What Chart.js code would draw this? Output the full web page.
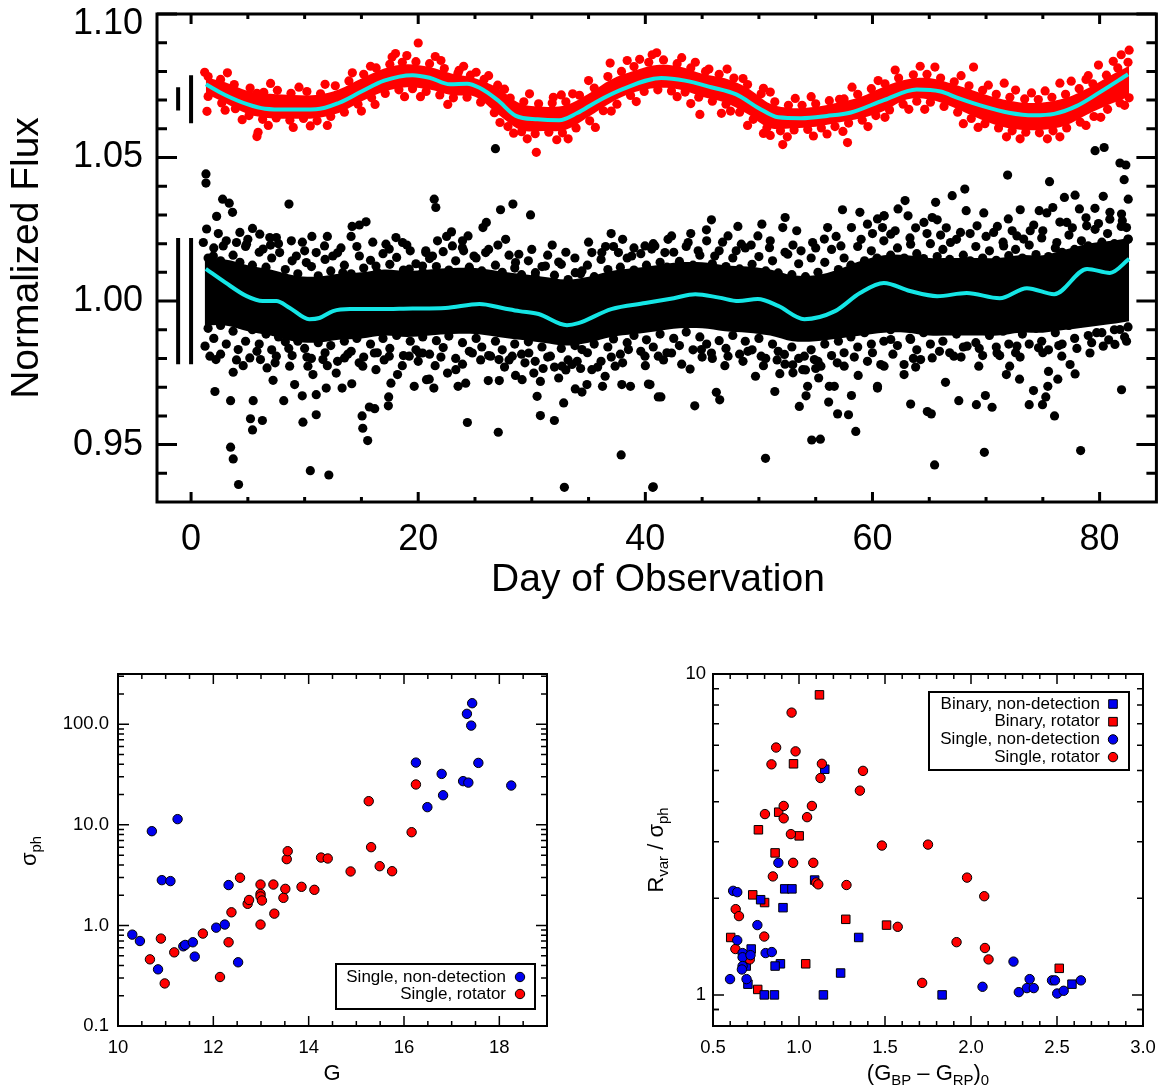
<!DOCTYPE html>
<html>
<head>
<meta charset="utf-8">
<title>Light curves and variability</title>
<script src="https://cdn.jsdelivr.net/npm/chart.js@4.4.0/dist/chart.umd.min.js"></script>
<style>
  body { margin: 0; background: #fff; }
  #wrap { position: relative; width: 1161px; height: 1088px; }
  canvas { position: absolute; }
</style>
</head>
<body>
<div id="wrap">
  <canvas id="lightCurve" width="1161" height="600" style="left:0;top:0"></canvas>
  <canvas id="sigmaPlot" width="580" height="488" style="left:0;top:600px"></canvas>
  <canvas id="ratioPlot" width="581" height="488" style="left:580px;top:600px"></canvas>
</div>
<script>
// ---- top panel: light curves (day, normalized flux) ----
const dayTicks = [0, 20, 40, 60, 80];
const fluxTicks = [0.95, 1.0, 1.05, 1.1];

const redFit = [[1.3,1.0755],[3,1.0718],[5,1.0685],[6.5,1.067],[8.5,1.0667],[11,1.0668],[13,1.069],[15,1.073],[17,1.0768],[19.5,1.0787],[21,1.0778],[22.8,1.0755],[24.3,1.0757],[25.4,1.0743],[27,1.07],[28.6,1.0645],[30.5,1.0633],[32.4,1.063],[34,1.0655],[35.6,1.0692],[38,1.0738],[41.4,1.0777],[43.5,1.0768],[45.8,1.0745],[48,1.072],[50,1.0672],[51.7,1.064],[53.7,1.0637],[56,1.0645],[58.1,1.0657],[61,1.07],[63.9,1.0737],[66,1.073],[67.5,1.0708],[69.8,1.0678],[72,1.0656],[74.2,1.0647],[76,1.0652],[78,1.068],[80,1.0727],[82.5,1.079]];

const blackFit = [[1.3,1.0112],[3,1.0065],[4.9,1.0017],[6.3,1.0],[7.5,1.0],[8.7,0.9976],[10.4,0.9937],[11.3,0.9941],[12.5,0.9965],[14,0.9972],[16.6,0.9972],[19.5,0.9974],[22.4,0.9976],[25.4,0.999],[27.5,0.9975],[28.9,0.9965],[30.6,0.9955],[33.1,0.9916],[34.1,0.9923],[37,0.9972],[40,0.9993],[42.5,1.001],[44.4,1.0024],[46.5,1.0012],[48.2,1.0],[49.9,1.0007],[51.7,0.9983],[54,0.9937],[56.7,0.9965],[58.9,1.0028],[61,1.0063],[63.3,1.0035],[65.7,1.0017],[68.3,1.0028],[71.2,1.001],[73.6,1.0045],[76,1.0024],[78.9,1.0112],[80.9,1.0098],[82.6,1.0147]];

// dense part of the red light curve: upper / lower envelope
const redBandDays = [1.3,3,5,7,9,11,13,15,17,19,21,23,25,27,29,31,33,35,37,39,41,43,45,47,49,51,53,55,57,59,61,63,65,67,69,71,73,75,77,79,81,82.6];
const redBandTop = [1.078,1.0762,1.0732,1.0722,1.0718,1.0718,1.0737,1.0775,1.081,1.0825,1.0815,1.0792,1.0776,1.0742,1.0688,1.0677,1.0682,1.0722,1.0772,1.0802,1.0822,1.0817,1.0792,1.0776,1.0742,1.0687,1.0672,1.0677,1.0692,1.0712,1.0747,1.0772,1.0777,1.0757,1.0732,1.0707,1.0692,1.0692,1.0707,1.0742,1.0787,1.082];
const redBandBottom = [1.0722,1.069,1.0652,1.0637,1.0635,1.0637,1.0655,1.0695,1.073,1.0745,1.0737,1.0717,1.0712,1.0652,1.0597,1.0592,1.0597,1.0642,1.0692,1.0727,1.0742,1.0737,1.0712,1.0692,1.0652,1.0602,1.0602,1.0607,1.0622,1.0637,1.0662,1.0702,1.0702,1.0677,1.0642,1.0612,1.0597,1.0597,1.0612,1.0652,1.0687,1.0712];

const redPoints = [
  [1.5,1.0782],[2.6,1.0772],[3.8,1.0754],[5.2,1.0742],[6.4,1.0727],[7.6,1.0734],[8.8,1.0724],[10.2,1.073],[11.4,1.0722],[12.7,1.075],[13.9,1.0767],[15.2,1.079],[16.3,1.0812],[17.5,1.0825],[18.6,1.0832],[19.8,1.0834],[21,1.0827],[22.3,1.081],[23.5,1.0794],[24.6,1.0787],[25.8,1.0772],[27,1.0752],[28.1,1.0707],[29.3,1.0694],[30.6,1.0687],[31.8,1.069],[33,1.0694],[34.2,1.0717],[35.5,1.0742],[36.7,1.0782],[37.9,1.08],[39,1.0817],[40.3,1.0832],[41.6,1.084],[42.8,1.0827],[44,1.0812],[45.3,1.08],[46.5,1.079],[47.8,1.0777],[49,1.0754],[50.2,1.0722],[51.4,1.0694],[52.6,1.0682],[53.8,1.0682],[55,1.0687],[56.2,1.0698],[57.5,1.0704],[58.7,1.072],[59.9,1.074],[61.1,1.0757],[62.3,1.0777],[63.6,1.0788],[64.8,1.079],[66,1.0777],[67.2,1.0764],[68.5,1.075],[69.7,1.0734],[70.9,1.072],[72.1,1.071],[73.4,1.0704],[74.6,1.0702],[75.8,1.071],[77,1.072],[78.2,1.074],[79.4,1.0757],[80.6,1.0787],[81.6,1.0812],[82.5,1.0832],
  [1.5,1.0713],[2.7,1.069],[3.9,1.067],[5.1,1.0646],[6.3,1.0633],[7.5,1.0638],[8.7,1.063],[9.9,1.0636],[11.1,1.0628],[12.3,1.0643],[13.5,1.0658],[14.7,1.0686],[15.9,1.0708],[17.1,1.0723],[18.3,1.0736],[19.5,1.074],[20.7,1.073],[21.9,1.0718],[23.1,1.0708],[24.3,1.071],[25.5,1.0693],[26.7,1.0656],[27.9,1.0608],[29.1,1.059],[30.3,1.0583],[31.5,1.0588],[32.7,1.0586],[33.9,1.0603],[35.1,1.0628],[36.3,1.0663],[37.5,1.0686],[38.7,1.0716],[39.9,1.073],[41.1,1.0736],[42.3,1.0732],[43.5,1.0728],[44.7,1.071],[45.9,1.0696],[47.1,1.0686],[48.3,1.0658],[49.5,1.0633],[50.7,1.0603],[51.9,1.0593],[53.1,1.0596],[54.3,1.0598],[55.5,1.0603],[56.7,1.0608],[57.9,1.062],[59.1,1.063],[60.3,1.0646],[61.5,1.0666],[62.7,1.0686],[63.9,1.0696],[65.1,1.0693],[66.3,1.0678],[67.5,1.0658],[68.7,1.0636],[69.9,1.0618],[71.1,1.0603],[72.3,1.0593],[73.5,1.0588],[74.7,1.0586],[75.9,1.0593],[77.1,1.0603],[78.3,1.0623],[79.5,1.0643],[80.7,1.0668],[81.8,1.069],[82.6,1.0708],
  [1.4,1.0661],[5.8,1.0573],[5.9,1.0588],[5.8,1.0724],[1.2,1.0797],[17.7,1.085],[20,1.0899],[25.1,1.0797],[30.4,1.0518],[31.9,1.071],[36.9,1.0829],[41,1.0865],[44.8,1.065],[46.7,1.0654],[45.6,1.0808],[50.4,1.0741],[50.4,1.0584],[51,1.0577],[27.6,1.0738],[23.6,1.0804],[68.9,1.0815],[71.6,1.0759],[79.9,1.0822],[82.6,1.0874],[52.1,1.0545],[57.4,1.0591],[57.8,1.0552],[61.1,1.064],[57.1,1.0703],[76.5,1.0759],[77.5,1.0766],
  [9.5,1.0745],[14.2,1.0795],[19.0,1.0855],[22.0,1.0838],[26.2,1.0785],[33.6,1.0722],[39.5,1.0842],[43.2,1.0848],[48.6,1.0775],[53.2,1.0706],[60.5,1.0768],[65.5,1.0815],[70.2,1.0752],[74.0,1.0725],[78.8,1.0772],[81.2,1.0835],
  [4.5,1.0632],[10.5,1.061],[16.2,1.0685],[20.2,1.0712],[28.4,1.0585],[32.2,1.0562],[37.0,1.0662],[42.8,1.0712],[47.5,1.0662],[52.5,1.0572],[56.0,1.0582],[63.2,1.0668],[69.3,1.0605],[73.0,1.0565],[76.5,1.0572],[80.1,1.064],
  [3.2,1.0795],[7.0,1.0758],[11.8,1.0755],[15.8,1.0818],[18.0,1.0862],[21.5,1.0852],[24.0,1.0818],[29.8,1.0722],[32.6,1.0718],[35.0,1.0768],[38.4,1.0838],[40.6,1.0858],[44.4,1.0832],[47.2,1.0808],[51.0,1.0728],[54.6,1.0712],[58.2,1.0745],[62.0,1.0805],[64.2,1.0818],[67.8,1.0785],[72.6,1.0735],[75.2,1.0732],[79.0,1.0785],[81.9,1.0858],
  [3.0,1.0665],[6.8,1.0612],[9.0,1.0605],[12.0,1.0612],[15.0,1.0662],[18.8,1.0712],[22.6,1.0685],[27.2,1.0622],[29.6,1.0565],[33.2,1.0565],[35.6,1.0605],[39.2,1.0695],[44.0,1.0688],[49.0,1.0612],[54.8,1.0575],[59.6,1.0608],[64.6,1.0668],[68.0,1.0618],[71.8,1.0572],[75.4,1.0565],[78.8,1.0612],[82.2,1.0682]
];

// dense core of the black light curve
const blackBandDays = [1.2,3,5,7,9,11,13,15,17,19,21,23,25,27,29,31,33,35,37,39,41,43,45,47,49,51,53,55,57,59,61,63,65,67,69,71,73,75,77,79,81,82.6];
const blackBandTop = [1.0145,1.0145,1.0125,1.011,1.009,1.0085,1.0095,1.01,1.011,1.0105,1.011,1.0115,1.0115,1.0105,1.0095,1.0085,1.0075,1.0085,1.0105,1.0115,1.0125,1.0135,1.0135,1.0125,1.012,1.011,1.009,1.009,1.011,1.014,1.016,1.016,1.015,1.015,1.015,1.015,1.016,1.016,1.018,1.02,1.021,1.022];
const blackBandBottom = [0.9915,0.9915,0.9895,0.988,0.986,0.9855,0.9865,0.987,0.988,0.9875,0.988,0.9885,0.9885,0.9875,0.9865,0.9855,0.9845,0.9855,0.9875,0.9885,0.9895,0.9905,0.9905,0.9895,0.989,0.988,0.986,0.986,0.987,0.988,0.989,0.989,0.988,0.988,0.988,0.988,0.989,0.989,0.99,0.991,0.992,0.993];

const blackPoints = [
  [1.31,1.0443],[1.31,1.0411],[2.78,1.0355],[3.36,1.0341],[3.65,1.0309],[2.25,1.0295],[8.62,1.0338],[14.18,1.026],[14.82,1.0265],[15.41,1.0276],[14.09,1.0225],[10.64,1.0225],[5.41,1.0253],[6.05,1.0233],[6.93,1.0221],[7.51,1.0221],[8.83,1.021],[11.75,1.0192],[18.04,1.0221],[18.62,1.0204],[17.16,1.0198],[20.67,1.0169],[4.3,1.0239],[1.37,1.0251],
  [2.1,0.9685],[3.48,0.9653],[5.47,0.9653],[8.16,0.9653],[9.79,0.967],[11.02,0.9674],[5.23,0.959],[6.28,0.9584],[5.41,0.9551],[3.48,0.9491],[3.71,0.945],[4.18,0.9361],[10.5,0.9409],[12.13,0.9394],[9.85,0.9578],[11.02,0.9604],[15.06,0.96],[15.12,0.9557],[15.55,0.9514],[15.7,0.9631],[16.17,0.9625],[17.37,0.9635],[17.4,0.9666],[14.15,0.9712],[13.3,0.9697],[11.9,0.9697],[9.12,0.9709],[7.22,0.9724],[6.69,0.9767],[3.71,0.9752],[4.59,0.9775],[6.11,0.9796],[17.6,0.9714],[19.65,0.9703],[20.73,0.9726],[18.18,0.9744],[1.23,0.9843],[1.66,0.9808],[2.19,0.9796],[8.68,0.9773],[10.29,0.9773],[10.73,0.9744],[12.78,0.9749],[15.12,0.9773],[16.28,0.9761],[19.21,0.9808],[4.15,0.9831],[5.17,0.9802],[7.51,0.9808],[11.61,0.9796],[13.51,0.9802],[16.14,0.9819],[17.45,0.9808],[20.38,0.9819],
  [1.08,1.0204],[1.96,1.0157],[2.83,1.0192],[4,1.0204],[4.88,1.0198],[6.34,1.0181],[7.8,1.0169],[9.27,1.0157],[10.15,1.0134],[11.02,1.0169],[12.48,1.0157],[13.36,1.0099],[14.82,1.0157],[16.28,1.0122],[17.45,1.0181],[19.21,1.0111],[20.38,1.0122],
  [21.41,1.0355],[21.55,1.0326],[27.25,1.0318],[28.34,1.0338],[29.89,1.03],[25.7,1.0256],[26,1.0274],[22.93,1.0241],[24.39,1.0227],[27.02,1.0195],[36.99,1.0235],[21.7,1.021],[20.67,1.0175],[21.26,1.0157],[23.01,1.0192],[23.89,1.0186],[24.91,1.0157],[25.94,1.0169],[28.86,1.0163],[28.57,1.0134],[31.2,1.0122],[32.37,1.0136],[34.42,1.0105],[35.29,1.0169],[36.17,1.0169],[37.63,1.0169],[38.8,1.0157],[39.97,1.0192],[40.56,1.0181],[33.83,1.0099],[30.32,1.0099],
  [20.97,0.9728],[21.38,0.9697],[24.33,0.9577],[27.05,0.9543],[30.47,0.9668],[30.76,0.9601],[31.99,0.9584],[32.81,0.9645],[32.87,0.9351],[37.87,0.9464],[40.65,0.9351],[33.83,0.9694],[34.42,0.9683],[34.86,0.9709],[36.23,0.9703],[37.93,0.9709],[38.69,0.9703],[40.27,0.9711],[41.14,0.9666],[26.17,0.9723],[27.14,0.9723],[28.57,0.9741],[29.15,0.9726],[30.18,0.9749],[30.76,0.972],[32.37,0.9732],[23.51,0.9703],[24.18,0.9714],[22.58,0.9749],[21.49,0.9775],[23.31,0.9761],[26.38,0.9808],[27.11,0.9796],[29.74,0.9819],[31.64,0.9808],[32.66,0.9773],[33.54,0.9779],[35.29,0.9761],[36.46,0.9738],[37.34,0.9773],[39.97,0.9808],[20.09,0.9819],[24.77,0.9819],[28.28,0.9808],[34.42,0.9831],[38.51,0.9831],
  [57.36,1.0318],[58.89,1.0309],[45.82,1.0283],[48.15,1.026],[50.26,1.0268],[52.31,1.0291],[52.1,1.0256],[53.33,1.0245],[56.05,1.0256],[58.15,1.0256],[59.56,1.0268],[60.44,1.0286],[61.02,1.0297],[42.31,1.0227],[45.38,1.0248],[47.28,1.0227],[49.91,1.0227],[54.73,1.0204],[55.76,1.0216],[43.77,1.0204],[48.45,1.0198],[49.32,1.0195],[50.93,1.0186],[52.54,1.0163],[53.71,1.0175],[57.22,1.0192],[40.84,1.0192],[41.72,1.0169],[44.65,1.0175],[46.11,1.0157],
  [40.7,0.9353],[50.58,0.9452],[54.65,0.9516],[55.41,0.9519],[58.53,0.9546],[56.93,0.9607],[57.89,0.9604],[56.14,0.9648],[53.56,0.9633],[54.15,0.967],[54.29,0.9703],[55.26,0.9732],[56.2,0.9703],[56.64,0.9703],[58.15,0.9671],[58.74,0.9741],[60.44,0.9697],[44.35,0.9635],[41.37,0.9666],[40.41,0.9709],[46.25,0.9682],[46.55,0.9656],[43.94,0.9763],[49.7,0.9738],[51.4,0.9685],[51.84,0.9747],[52.98,0.9778],[53.86,0.9761],[55.46,0.9773],[57.51,0.9773],[59.56,0.979],[60.73,0.9779],[41.14,0.9808],[42.31,0.9819],[44.94,0.9831],[45.82,0.9819],[47.28,0.9808],[49.03,0.9825],[50.2,0.9808],[52.25,0.9814],[54,0.9808],[54.88,0.9796],
  [71.9,1.0439],[75.59,1.0416],[81.79,1.0481],[82.31,1.0474],[82.16,1.0423],[82.52,1.0355],[68.13,1.039],[67.02,1.0367],[65.56,1.0344],[76.9,1.0361],[77.84,1.0369],[80.32,1.0365],[62.87,1.035],[62.25,1.0321],[63.13,1.0297],[65.26,1.0291],[65.7,1.0283],[64.53,1.0274],[68.25,1.0315],[69.8,1.0307],[73.01,1.0318],[74.68,1.0315],[75.35,1.0307],[75.88,1.0326],[71.96,1.0286],[78.22,1.0321],[79.59,1.0323],[80.91,1.0309],[81.93,1.0303],[61.02,1.0297],[60.88,1.0256],[61.61,1.0233],[66,1.023],[67.75,1.0239],[69.21,1.0262],[70.67,1.0239],[72.72,1.0227],[73.89,1.0245],[77.11,1.0274],[78.86,1.0262],[82.37,1.0256],[63.36,1.0198],[66.87,1.0204],[71.55,1.0192],[73.31,1.0216],[76.23,1.0204],[82.52,1.0216],
  [65.47,0.9429],[69.85,0.9473],[78.33,0.9479],[81.93,0.9691],[63.36,0.9641],[64.83,0.9615],[65.18,0.9607],[67.6,0.9653],[69.15,0.9639],[69.94,0.9671],[70.53,0.963],[73.8,0.9639],[74.97,0.9639],[75.26,0.9666],[76.03,0.96],[74.18,0.9688],[75.44,0.9703],[76.32,0.9728],[72.95,0.9728],[71.79,0.9744],[66.43,0.9717],[60.44,0.9703],[62.78,0.9744],[63.8,0.977],[62.78,0.9779],[61.02,0.9773],[69.36,0.9773],[72.08,0.9773],[75.5,0.9755],[77.84,0.9746],[77.4,0.9779],[79.15,0.9819],[80.32,0.9843],[81.35,0.9849],[82.37,0.986],[74.62,0.9837],[76.67,0.9808],[70.97,0.9819],[67.17,0.9808],[65.26,0.9802],[64.24,0.9796],[61.61,0.9866],[63.36,0.9866],[68.33,0.9843],[72.72,0.9843],[79.74,0.989],[81.79,0.9901],
  [26.8,1.0531],[79.6,1.0524],[80.4,1.0535],
  // crowded points hugging the top of the core
  [1.5,1.015],[2.0,1.0185],[2.6,1.014],[3.1,1.021],[3.7,1.016],[4.3,1.0135],[4.8,1.019],[5.4,1.0125],[6.0,1.017],[6.6,1.0118],[7.1,1.015],[7.7,1.02],[8.3,1.011],[8.9,1.014],[9.4,1.0095],[10.0,1.0175],[10.6,1.012],[11.2,1.0088],[11.8,1.0145],[12.3,1.0105],[12.9,1.0168],[13.5,1.0125],[14.1,1.0095],[14.6,1.019],[15.2,1.0115],[15.8,1.0142],[16.4,1.01],[16.9,1.0165],[17.5,1.0128],[18.1,1.0152],[18.7,1.0108],[19.3,1.0175],[19.8,1.013],[20.4,1.01],[21.0,1.0148],[21.6,1.012],[22.2,1.0172],[22.7,1.0108],[23.3,1.014],[23.9,1.021],[24.5,1.0118],[25.1,1.015],[25.6,1.0105],[26.2,1.018],[26.8,1.0125],[27.4,1.01],[28.0,1.016],[28.5,1.0115],[29.1,1.0092],[29.7,1.014],[30.3,1.0085],[30.9,1.012],[31.4,1.016],[32.0,1.009],[32.6,1.0128],[33.2,1.0075],[33.8,1.015],[34.3,1.0095],[34.9,1.0125],[35.5,1.0085],[36.1,1.0145],[36.7,1.011],[37.2,1.019],[37.8,1.0118],[38.4,1.015],[39.0,1.0108],[39.6,1.0165],[40.1,1.0125],[40.7,1.02],[41.3,1.0135],[41.9,1.0118],[42.5,1.017],[43.0,1.0138],[43.6,1.019],[44.2,1.0125],[44.8,1.016],[45.4,1.021],[45.9,1.013],[46.5,1.0175],[47.1,1.012],[47.7,1.015],[48.3,1.0112],[48.8,1.0185],[49.4,1.0128],[50.0,1.0155],[50.6,1.0105],[51.2,1.014],[51.7,1.0098],[52.3,1.017],[52.9,1.0092],[53.5,1.013],[54.1,1.0085],[54.6,1.015],[55.2,1.01],[55.8,1.0135],[56.4,1.018],[57.0,1.011],[57.5,1.015],[58.1,1.0125],[58.7,1.019],[59.3,1.014],[59.9,1.0175],[60.4,1.015],[61.0,1.021],[61.6,1.016],[62.2,1.0185],[62.8,1.015],[63.3,1.022],[63.9,1.0165],[64.5,1.0148],[65.1,1.02],[65.7,1.0155],[66.2,1.018],[66.8,1.0145],[67.4,1.0215],[68.0,1.016],[68.6,1.014],[69.1,1.019],[69.7,1.015],[70.3,1.0175],[70.9,1.0142],[71.5,1.0205],[72.0,1.0158],[72.6,1.018],[73.2,1.015],[73.8,1.0195],[74.4,1.0162],[74.9,1.022],[75.5,1.0155],[76.1,1.0185],[76.7,1.017],[77.3,1.023],[77.8,1.018],[78.4,1.021],[79.0,1.0192],[79.6,1.025],[80.2,1.0205],[80.7,1.0235],[81.3,1.02],[81.9,1.026],[82.5,1.0215],
  // crowded points hugging the bottom of the core
  [1.5,0.9905],[2.0,0.987],[2.6,0.9915],[3.1,0.985],[3.7,0.9895],[4.3,0.992],[4.8,0.986],[5.4,0.99],[6.0,0.985],[6.6,0.9885],[7.1,0.983],[7.7,0.9875],[8.3,0.9858],[8.9,0.981],[9.4,0.986],[10.0,0.9835],[10.6,0.98],[11.2,0.9855],[11.8,0.982],[12.3,0.9845],[12.9,0.979],[13.5,0.986],[14.1,0.9825],[14.6,0.987],[15.2,0.9805],[15.8,0.985],[16.4,0.982],[16.9,0.987],[17.5,0.9835],[18.1,0.988],[18.7,0.981],[19.3,0.986],[19.8,0.983],[20.4,0.9875],[21.0,0.9815],[21.6,0.9862],[22.2,0.9838],[22.7,0.9878],[23.3,0.98],[23.9,0.9855],[24.5,0.9825],[25.1,0.987],[25.6,0.984],[26.2,0.981],[26.8,0.986],[27.4,0.983],[28.0,0.9795],[28.5,0.985],[29.1,0.9815],[29.7,0.9858],[30.3,0.979],[30.9,0.984],[31.4,0.9805],[32.0,0.977],[32.6,0.9835],[33.2,0.9795],[33.8,0.9845],[34.3,0.9765],[34.9,0.982],[35.5,0.985],[36.1,0.979],[36.7,0.984],[37.2,0.9868],[37.8,0.9815],[38.4,0.9855],[39.0,0.988],[39.6,0.9825],[40.1,0.9865],[40.7,0.984],[41.3,0.9885],[41.9,0.982],[42.5,0.987],[43.0,0.9845],[43.6,0.9892],[44.2,0.983],[44.8,0.9875],[45.4,0.985],[45.9,0.98],[46.5,0.9862],[47.1,0.9835],[47.7,0.988],[48.3,0.9815],[48.8,0.986],[49.4,0.983],[50.0,0.987],[50.6,0.98],[51.2,0.985],[51.7,0.9825],[52.3,0.978],[52.9,0.984],[53.5,0.98],[54.1,0.976],[54.6,0.983],[55.2,0.979],[55.8,0.985],[56.4,0.981],[57.0,0.986],[57.5,0.982],[58.1,0.9875],[58.7,0.984],[59.3,0.989],[59.9,0.985],[60.4,0.9905],[61.0,0.986],[61.6,0.99],[62.2,0.9845],[62.8,0.9915],[63.3,0.987],[63.9,0.983],[64.5,0.989],[65.1,0.985],[65.7,0.9905],[66.2,0.986],[66.8,0.982],[67.4,0.9885],[68.0,0.984],[68.6,0.99],[69.1,0.9855],[69.7,0.981],[70.3,0.988],[70.9,0.984],[71.5,0.9895],[72.0,0.985],[72.6,0.982],[73.2,0.9885],[73.8,0.985],[74.4,0.9905],[74.9,0.986],[75.5,0.983],[76.1,0.989],[76.7,0.985],[77.3,0.9915],[77.8,0.987],[78.4,0.9925],[79.0,0.988],[79.6,0.9935],[80.2,0.989],[80.7,0.9945],[81.3,0.99],[81.9,0.995],[82.5,0.991],
  // outer ring, above and below
  [2.4,1.0235],[5.0,1.0215],[7.0,1.0195],[9.8,1.0205],[12.0,1.0225],[13.2,1.0185],[16.0,1.0205],[19.0,1.0195],[22.5,1.0225],[24.0,1.0175],[27.7,1.0215],[30.0,1.018],[31.8,1.0195],[33.0,1.017],[35.0,1.0205],[36.5,1.019],[38.0,1.0215],[39.0,1.0185],[42.0,1.0215],[44.0,1.0235],[46.8,1.0205],[48.0,1.0175],[51.0,1.021],[53.0,1.0195],[55.0,1.0185],[56.8,1.0225],[59.0,1.0215],[60.0,1.0235],[62.0,1.0245],[63.8,1.0255],[64.8,1.0235],[66.5,1.0255],[68.6,1.0235],[70.0,1.0225],[71.0,1.026],[72.3,1.0245],[74.2,1.0265],[75.0,1.0245],[76.5,1.0275],[77.6,1.0255],[78.8,1.029],[79.9,1.027],[80.9,1.0285],[82.0,1.028],
  [2.6,0.9815],[4.0,0.9795],[5.8,0.9825],[7.4,0.9785],[8.6,0.9835],[10.2,0.9805],[12.0,0.9775],[13.8,0.9815],[14.8,0.9785],[17.0,0.9795],[18.6,0.9775],[20.0,0.979],[22.0,0.9805],[23.9,0.978],[25.5,0.9795],[27.6,0.977],[29.4,0.9785],[31.0,0.9765],[33.0,0.976],[34.0,0.979],[35.8,0.977],[37.0,0.9805],[38.0,0.9785],[40.0,0.9775],[41.6,0.9795],[43.2,0.978],[45.0,0.9805],[47.0,0.9775],[48.6,0.979],[50.4,0.9775],[51.6,0.9795],[53.0,0.975],[55.0,0.9765],[56.9,0.9785],[58.4,0.9805],[60.0,0.982],[61.8,0.9815],[63.6,0.98],[65.9,0.9825],[67.8,0.9805],[69.4,0.9835],[71.2,0.981],[73.0,0.9805],[75.0,0.982],[76.4,0.9845],[78.0,0.9835],[79.3,0.9855],[80.8,0.9865],[82.2,0.9875]
];

// typical error bars drawn left of day 0
const errDays = [-1.14, 0, -1.14, 0];
const errLow = [1.0664, 1.0619, 0.978, 0.978];
const errHigh = [1.0745, 1.0787, 1.022, 1.022];

// ---- bottom left: sigma_ph vs G ----
const gTicks = [10, 12, 14, 16, 18];
const sigmaTicks = [0.1, 1, 10, 100];
const sigmaTickLabels = ["0.1", "1.0", "10.0", "100.0"];

const singleNonDetG = [10.3,10.46,10.71,10.92,11.1,11.25,10.84,11.37,11.41,11.57,11.61,12.06,12.24,12.32,12.52,16.25,16.49,16.79,16.82,17.24,17.35,17.32,17.43,17.41,17.56,18.25];
const singleNonDetSigma = [0.81,0.7,8.65,2.82,2.76,11.4,0.366,0.62,0.64,0.68,0.49,0.95,1.02,2.52,0.43,41.6,15,32.1,19.7,27.2,26.3,127,162,97,41.3,24.6];
const singleRotG = [10.67,10.9,10.98,11.18,11.78,12.14,12.32,12.38,12.56,12.72,12.75,12.99,12.99,12.99,13.02,12.99,13.26,13.28,13.47,13.51,13.54,13.56,13.85,14.12,14.26,14.4,14.88,15.26,15.31,15.49,15.75,16.16,16.25];
const singleRotSigma = [0.46,0.74,0.265,0.54,0.83,0.307,0.68,1.35,2.98,1.64,1.79,2.55,2.06,1.94,1.77,1.02,2.55,1.31,1.88,2.31,4.56,5.47,2.42,2.26,4.73,4.63,3.44,17.2,6,3.88,3.46,8.45,25.2];

// ---- bottom right: R_var / sigma_ph vs colour ----
const colourTicks = [0.5, 1.0, 1.5, 2.0, 2.5, 3.0];
const ratioTicks = [1, 10];
const ratioTickLabels = ["1", "10"];

const binNonDetColour = [1.15,1.091,0.917,0.959,0.907,0.777,1.347,0.722,0.892,0.861,0.693,1.242,0.703,0.798,0.857,1.142,1.832,2.587];
const binNonDetRatio = [5.05,2.28,2.14,2.14,1.87,1.98,1.51,1.39,1.25,1.23,1.23,1.17,1.08,1.0,1.0,1.0,1.0,1.08];
const binRotColour = [1.119,0.968,0.882,0.764,1.001,0.861,0.731,0.8,1.272,1.509,0.603,1.039,2.513,0.76];
const binRotRatio = [8.61,5.25,3.71,3.27,3.13,2.77,2.05,1.94,1.72,1.65,1.51,1.25,1.21,1.04];
const singleNonDetColour = [0.88,0.617,0.641,0.758,0.641,0.672,0.672,0.718,0.806,0.842,0.672,0.668,0.695,0.599,2.247,2.341,2.471,2.488,2.639,2.067,2.278,2.325,2.365,2.501,2.539];
const singleNonDetRatio = [2.58,2.11,2.09,1.65,1.48,1.35,1.31,1.33,1.35,1.36,1.23,1.2,1.12,1.12,1.27,1.12,1.11,1.11,1.11,1.06,1.02,1.05,1.05,1.01,1.03];
const singleRotColour = [0.957,0.867,0.98,0.84,1.133,1.372,1.125,1.354,0.911,1.075,0.802,0.911,1.047,0.953,1.482,1.75,0.966,1.083,0.848,1.1,1.112,1.276,1.977,2.077,0.632,0.651,1.574,0.798,0.63,0.714,1.916,2.081,2.102,1.716];
const singleRotRatio = [7.58,5.9,5.74,5.23,5.25,4.99,4.74,4.33,3.88,3.88,3.66,3.55,3.58,3.17,2.92,2.94,2.58,2.58,2.34,2.24,2.21,2.2,2.32,2.03,1.85,1.76,1.63,1.52,1.39,1.29,1.46,1.4,1.29,1.09];

const FONT = "'Liberation Sans', Arial, Helvetica, sans-serif";
const RED = "#ff0000";
const BLUE = "#0000f0";
const CYAN = "#14e6e6";

const toXY = (xs, ys) => xs.map((x, i) => ({ x: x, y: ys[i] }));
const pairs = (list) => list.map((p) => ({ x: p[0], y: p[1] }));

// inward ticks on all four sides + frame
const frame = {
  id: "frame",
  afterDatasetsDraw(chart, args, o) {
    const { ctx, chartArea: a } = chart;
    const xs = chart.scales.x;
    const ys = chart.scales.y;
    ctx.save();
    ctx.strokeStyle = "#000";
    ctx.lineWidth = o.tickWidth;
    const xTick = (v, len) => {
      const p = xs.getPixelForValue(v);
      ctx.beginPath();
      ctx.moveTo(p, a.bottom);
      ctx.lineTo(p, a.bottom - len);
      ctx.moveTo(p, a.top);
      ctx.lineTo(p, a.top + len);
      ctx.stroke();
    };
    const yTick = (v, len) => {
      const p = ys.getPixelForValue(v);
      ctx.beginPath();
      ctx.moveTo(a.left, p);
      ctx.lineTo(a.left + len, p);
      ctx.moveTo(a.right, p);
      ctx.lineTo(a.right - len, p);
      ctx.stroke();
    };
    o.xMajor.forEach((v) => xTick(v, o.xLen[0]));
    o.xMinor.forEach((v) => xTick(v, o.xLen[1]));
    o.yMajor.forEach((v) => yTick(v, o.yLen[0]));
    o.yMinor.forEach((v) => yTick(v, o.yLen[1]));
    ctx.lineWidth = o.lineWidth;
    ctx.strokeRect(a.left, a.top, a.right - a.left, a.bottom - a.top);
    ctx.restore();
  },
};

// the topmost y label sits a little below its tick, like the original
const nudgeLabels = {
  id: "nudgeLabels",
  beforeDraw(chart, args, o) {
    (o.items || []).forEach((n) => {
      const items = chart.scales[n.axis].getLabelItems(chart.chartArea);
      items.forEach((it) => {
        if (it.label === n.label && !it._nudged) {
          it.options.translation[1] += n.dy;
          it._nudged = true;
        }
      });
    });
  },
};

// axis titles with subscripts
const richText = {
  id: "richText",
  afterDraw(chart, args, o) {
    const ctx = chart.ctx;
    (o.items || []).forEach((it) => {
      const subSize = it.size * 0.68;
      ctx.save();
      ctx.translate(it.x, it.y);
      if (it.rot) ctx.rotate(it.rot);
      ctx.fillStyle = "#000";
      ctx.textBaseline = "middle";
      ctx.textAlign = "left";
      let w = 0;
      it.parts.forEach((p) => {
        ctx.font = (p[1] ? subSize : it.size) + "px " + FONT;
        w += ctx.measureText(p[0]).width;
      });
      let cx = -w / 2;
      it.parts.forEach((p) => {
        ctx.font = (p[1] ? subSize : it.size) + "px " + FONT;
        ctx.fillText(p[0], cx, p[1] ? it.size * 0.3 : 0);
        cx += ctx.measureText(p[0]).width;
      });
      ctx.restore();
    });
  },
};

// boxed legend, text right aligned, marker on the right
const boxLegend = {
  id: "boxLegend",
  afterDraw(chart, args, o) {
    if (!o.entries) return;
    const ctx = chart.ctx;
    const b = o.box;
    ctx.save();
    ctx.fillStyle = "#fff";
    ctx.fillRect(b[0], b[1], b[2] - b[0], b[3] - b[1]);
    ctx.lineWidth = 2;
    ctx.strokeStyle = "#000";
    ctx.strokeRect(b[0], b[1], b[2] - b[0], b[3] - b[1]);
    ctx.font = o.size + "px " + FONT;
    ctx.textAlign = "right";
    ctx.textBaseline = "middle";
    o.entries.forEach((label, i) => {
      const ds = chart.data.datasets.find((d) => d.label === label);
      const y = o.rowTop + i * o.rowStep;
      ctx.fillStyle = "#000";
      ctx.fillText(label, o.textRight, y);
      ctx.fillStyle = ds.backgroundColor;
      ctx.lineWidth = 1;
      ctx.beginPath();
      if (ds.pointStyle === "rect") ctx.rect(o.markX - 4.3, y - 4.3, 8.6, 8.6);
      else ctx.arc(o.markX, y, 4.7, 0, Math.PI * 2);
      ctx.fill();
      ctx.stroke();
    });
    ctx.restore();
  },
};

function minorSteps(from, to, step, skip) {
  const out = [];
  for (let v = from; v <= to + 1e-9; v += step) {
    const r = Math.round(v * 1000) / 1000;
    if (!skip.some((s) => Math.abs(s - r) < 1e-6)) out.push(r);
  }
  return out;
}

function logMinor(lo, hi) {
  const out = [];
  for (let d = Math.floor(Math.log10(lo)); d <= Math.ceil(Math.log10(hi)); d++) {
    for (let k = 2; k <= 9; k++) {
      const v = k * Math.pow(10, d);
      if (v > lo && v < hi) out.push(v);
    }
  }
  if (lo < 1 && lo >= 0.8) out.unshift(0.8, 0.9);
  return out;
}

Chart.defaults.font.family = FONT;
Chart.defaults.color = "#000";

function baseOptions(pad) {
  return {
    responsive: false,
    animation: false,
    devicePixelRatio: 1,
    events: [],
    layout: { padding: pad },
  };
}

// no extra room for half-labels at the ends of an axis
function fixSize(prop, size) {
  return (s) => {
    s[prop] = size;
    s.paddingTop = 0;
    s.paddingBottom = 0;
    s.paddingLeft = 0;
    s.paddingRight = 0;
  };
}

function lineSet(data, color, width, order) {
  return {
    type: "line",
    data: data,
    borderColor: color,
    borderWidth: width,
    pointRadius: 0,
    fill: false,
    cubicInterpolationMode: "monotone",
    order: order,
  };
}

function bandSet(data, color, fill, order) {
  return {
    type: "line",
    data: data,
    borderColor: "rgba(0,0,0,0)",
    borderWidth: 1,
    backgroundColor: color,
    pointRadius: 0,
    tension: 0.35,
    fill: fill,
    order: order,
  };
}

const noGrid = { display: false, drawTicks: false };

// ---------- top chart ----------
const errSets = errDays.map((d, i) =>
  lineSet([{ x: d, y: errLow[i] }, { x: d, y: errHigh[i] }], "#000", 4, 0)
);

new Chart(document.getElementById("lightCurve"), {
  type: "scatter",
  data: {
    datasets: [
      lineSet(pairs(redFit), CYAN, 4, 0),
      lineSet(pairs(blackFit), CYAN, 4, 0),
      ...errSets,
      { data: pairs(redPoints), backgroundColor: RED, pointRadius: 4.6, borderWidth: 0, order: 2 },
      { data: pairs(blackPoints), backgroundColor: "#000", pointRadius: 4.6, borderWidth: 0, order: 2 },
      bandSet(toXY(redBandDays, redBandTop), RED, "+1", 3),
      bandSet(toXY(redBandDays, redBandBottom), RED, false, 3),
      bandSet(toXY(blackBandDays, blackBandTop), "#000", "+1", 3),
      bandSet(toXY(blackBandDays, blackBandBottom), "#000", false, 3),
    ],
  },
  options: {
    ...baseOptions({ top: 14, right: 2, left: 0, bottom: 0 }),
    scales: {
      x: {
        type: "linear",
        min: -3,
        max: 85,
        grid: noGrid,
        border: { display: false },
        afterBuildTicks: (s) => { s.ticks = dayTicks.map((v) => ({ value: v })); },
        afterFit: fixSize("height", 98),
        ticks: { font: { size: 36 }, padding: 16, maxRotation: 0, autoSkip: false, callback: (v) => String(v) },
      },
      y: {
        type: "linear",
        min: 0.93,
        max: 1.1,
        grid: noGrid,
        border: { display: false },
        afterBuildTicks: (s) => { s.ticks = fluxTicks.map((v) => ({ value: v })); },
        afterFit: fixSize("width", 157),
        ticks: { font: { size: 36 }, padding: 14, autoSkip: false, callback: (v) => v.toFixed(2) },
      },
    },
    plugins: {
      legend: { display: false },
      tooltip: { enabled: false },
      nudgeLabels: { items: [{ axis: "y", label: "1.10", dy: 10 }] },
      frame: {
        lineWidth: 3,
        tickWidth: 3,
        xMajor: dayTicks,
        xMinor: minorSteps(5, 80, 5, dayTicks),
        yMajor: fluxTicks,
        yMinor: minorSteps(0.94, 1.09, 0.01, fluxTicks),
        xLen: [10, 5],
        yLen: [20, 10],
      },
      richText: {
        items: [
          { x: 27, y: 258, size: 39, rot: -Math.PI / 2, parts: [["Normalized Flux", false]] },
          { x: 658, y: 580, size: 39, parts: [["Day of Observation", false]] },
        ],
      },
    },
  },
  plugins: [nudgeLabels, frame, richText],
});

// ---------- bottom left ----------
function scatterSet(label, data, color, style, order) {
  return {
    label: label,
    data: data,
    backgroundColor: color,
    borderColor: "#000",
    borderWidth: 1,
    pointStyle: style,
    pointRadius: style === "rect" ? 6 : 4.7,
    order: order,
  };
}

new Chart(document.getElementById("sigmaPlot"), {
  type: "scatter",
  data: {
    datasets: [
      scatterSet("Single, non-detection", toXY(singleNonDetG, singleNonDetSigma), BLUE, "circle", 0),
      scatterSet("Single, rotator", toXY(singleRotG, singleRotSigma), RED, "circle", 0),
    ],
  },
  options: {
    ...baseOptions({ top: 74, right: 33, left: 0, bottom: 0 }),
    scales: {
      x: {
        type: "linear",
        min: 10,
        max: 19,
        grid: noGrid,
        border: { display: false },
        afterBuildTicks: (s) => { s.ticks = gTicks.map((v) => ({ value: v })); },
        afterFit: fixSize("height", 62),
        ticks: { font: { size: 18.5 }, padding: 11, maxRotation: 0, autoSkip: false, callback: (v) => String(v) },
      },
      y: {
        type: "logarithmic",
        min: 0.1,
        max: 316.2,
        grid: noGrid,
        border: { display: false },
        afterBuildTicks: (s) => { s.ticks = sigmaTicks.map((v) => ({ value: v })); },
        afterFit: fixSize("width", 118),
        ticks: { font: { size: 18.5 }, padding: 9, autoSkip: false, callback: (v, i) => sigmaTickLabels[i] },
      },
    },
    plugins: {
      legend: { display: false },
      tooltip: { enabled: false },
      frame: {
        lineWidth: 2,
        tickWidth: 1.5,
        xMajor: gTicks,
        xMinor: minorSteps(10.5, 18.5, 0.5, gTicks),
        yMajor: sigmaTicks,
        yMinor: logMinor(0.1, 316.2),
        xLen: [10, 5],
        yLen: [11, 6],
      },
      richText: {
        items: [
          { x: 332, y: 474, size: 22, parts: [["G", false]] },
          { x: 30, y: 251, size: 22, rot: -Math.PI / 2, parts: [["σ", false], ["ph", true]] },
        ],
      },
      boxLegend: {
        box: [336, 364, 535, 409],
        entries: ["Single, non-detection", "Single, rotator"],
        rowTop: 377,
        rowStep: 17,
        textRight: 506,
        markX: 520,
        size: 17,
      },
    },
  },
  plugins: [frame, richText, boxLegend],
});

// ---------- bottom right ----------
new Chart(document.getElementById("ratioPlot"), {
  type: "scatter",
  data: {
    datasets: [
      scatterSet("Binary, non-detection", toXY(binNonDetColour, binNonDetRatio), BLUE, "rect", 1),
      scatterSet("Binary, rotator", toXY(binRotColour, binRotRatio), RED, "rect", 1),
      scatterSet("Single, non-detection", toXY(singleNonDetColour, singleNonDetRatio), BLUE, "circle", 0),
      scatterSet("Single, rotator", toXY(singleRotColour, singleRotRatio), RED, "circle", 0),
    ],
  },
  options: {
    ...baseOptions({ top: 74, right: 18, left: 0, bottom: 0 }),
    scales: {
      x: {
        type: "linear",
        min: 0.5,
        max: 3.0,
        grid: noGrid,
        border: { display: false },
        afterBuildTicks: (s) => { s.ticks = colourTicks.map((v) => ({ value: v })); },
        afterFit: fixSize("height", 62),
        ticks: { font: { size: 18.5 }, padding: 11, maxRotation: 0, autoSkip: false, callback: (v) => v.toFixed(1) },
      },
      y: {
        type: "logarithmic",
        min: 0.8,
        max: 10,
        grid: noGrid,
        border: { display: false },
        afterBuildTicks: (s) => { s.ticks = ratioTicks.map((v) => ({ value: v })); },
        afterFit: fixSize("width", 133),
        ticks: { font: { size: 18.5 }, padding: 7, autoSkip: false, callback: (v, i) => ratioTickLabels[i] },
      },
    },
    plugins: {
      legend: { display: false },
      tooltip: { enabled: false },
      frame: {
        lineWidth: 2,
        tickWidth: 1.5,
        xMajor: colourTicks,
        xMinor: minorSteps(0.6, 2.9, 0.1, colourTicks),
        yMajor: ratioTicks,
        yMinor: logMinor(0.8, 10),
        xLen: [10, 5],
        yLen: [11, 6],
      },
      richText: {
        items: [
          { x: 348, y: 474, size: 22, parts: [["(G", false], ["BP", true], [" – G", false], ["RP", true], [")", false], ["0", true]] },
          { x: 77, y: 250, size: 22, rot: -Math.PI / 2, parts: [["R", false], ["var", true], [" / σ", false], ["ph", true]] },
        ],
      },
      boxLegend: {
        box: [349, 92, 549, 170],
        entries: ["Binary, non-detection", "Binary, rotator", "Single, non-detection", "Single, rotator"],
        rowTop: 104,
        rowStep: 17.7,
        textRight: 520,
        markX: 533,
        size: 17,
      },
    },
  },
  plugins: [frame, richText, boxLegend],
});
</script>
</body>
</html>
